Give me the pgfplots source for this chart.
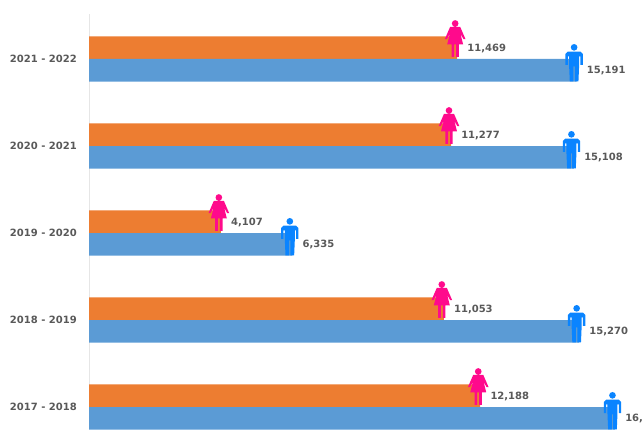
\documentclass[border=0pt]{standalone}
\usepackage{fontspec}
\setmainfont{DejaVu Sans}
\usepackage{pgfplots}
\usepackage{pgfplotstable}
\pgfplotsset{compat=1.18}
\definecolor{Female}{HTML}{ED7D31}
\definecolor{Male}{HTML}{5B9BD5}
\definecolor{PinkIcon}{HTML}{FF0A8C}
\definecolor{BlueIcon}{HTML}{0A84FF}
\definecolor{Txt}{HTML}{595959}
\definecolor{Rule}{HTML}{E6E6E6}

% icon coordinates are in thirds of a reference pixel (0.25pt)
\pgfdeclareplotmark{woman}{%
  \pgfscope
  \pgftransformxshift{-1.5pt}\pgftransformyshift{15.4pt}\pgftransformscale{0.25}%
  \pgfpathcircle{\pgfpoint{0pt}{45pt}}{10pt}%
  \pgfpathmoveto{\pgfpoint{-15pt}{35pt}}\pgfpathlineto{\pgfpoint{15pt}{35pt}}%
  \pgfpathlineto{\pgfpoint{31pt}{-2pt}}\pgfpathlineto{\pgfpoint{25pt}{-2pt}}%
  \pgfpathlineto{\pgfpoint{16pt}{14pt}}%
  \pgfpathlineto{\pgfpoint{24pt}{-18pt}}\pgfpathlineto{\pgfpoint{-24pt}{-18pt}}%
  \pgfpathlineto{\pgfpoint{-16pt}{14pt}}%
  \pgfpathlineto{\pgfpoint{-25pt}{-2pt}}\pgfpathlineto{\pgfpoint{-31pt}{-2pt}}%
  \pgfpathclose
  \pgfpathrectangle{\pgfpoint{-11pt}{-55pt}}{\pgfpoint{8pt}{38pt}}%
  \pgfpathrectangle{\pgfpoint{3pt}{-55pt}}{\pgfpoint{8pt}{38pt}}%
  \pgfusepathqfill
  \endpgfscope}
\pgfdeclareplotmark{man}{%
  \pgfscope
  \pgftransformxshift{-1.9pt}\pgftransformyshift{-3pt}\pgftransformscale{0.25}%
  \pgfpathcircle{\pgfpoint{0pt}{47pt}}{10pt}%
  \pgfpathmoveto{\pgfpoint{-19pt}{34pt}}\pgfpathlineto{\pgfpoint{19pt}{34pt}}%
  \pgfpathlineto{\pgfpoint{26pt}{27pt}}\pgfpathlineto{\pgfpoint{26pt}{-6pt}}%
  \pgfpathlineto{\pgfpoint{19pt}{-6pt}}\pgfpathlineto{\pgfpoint{19pt}{20pt}}%
  \pgfpathlineto{\pgfpoint{15pt}{20pt}}\pgfpathlineto{\pgfpoint{15pt}{-8pt}}%
  \pgfpathlineto{\pgfpoint{13pt}{-55pt}}\pgfpathlineto{\pgfpoint{2pt}{-55pt}}%
  \pgfpathlineto{\pgfpoint{2pt}{-10pt}}\pgfpathlineto{\pgfpoint{-2pt}{-10pt}}%
  \pgfpathlineto{\pgfpoint{-2pt}{-55pt}}\pgfpathlineto{\pgfpoint{-13pt}{-55pt}}%
  \pgfpathlineto{\pgfpoint{-15pt}{-8pt}}\pgfpathlineto{\pgfpoint{-15pt}{20pt}}%
  \pgfpathlineto{\pgfpoint{-19pt}{20pt}}\pgfpathlineto{\pgfpoint{-19pt}{-6pt}}%
  \pgfpathlineto{\pgfpoint{-26pt}{-6pt}}\pgfpathlineto{\pgfpoint{-26pt}{27pt}}%
  \pgfpathclose
  \pgfusepathqfill
  \endpgfscope}

\pgfplotstableread{
value row
12188 0
11053 1
4107 2
11277 3
11469 4
}\femaledata
\pgfplotstableread{
value row
16386 0
15270 1
6335 2
15108 3
15191 4
}\maledata

\begin{document}
\begin{tikzpicture}
  \path[use as bounding box] (0,0) rectangle (481.5pt,321.75pt);
  \begin{axis}[
    at={(66.75pt,0pt)}, anchor=south west,
    scale only axis,
    width=414.75pt, height=311.25pt,
    xmin=0, xmax=17227,
    ymin=-0.2529, ymax=4.5172,
    clip=false,
    axis x line=none,
    axis y line=left,
    y axis line style={-, draw=Rule, line width=0.75pt},
    ytick={0,1,2,3,4},
    yticklabels={2017 - 2018,2018 - 2019,2019 - 2020,2020 - 2021,2021 - 2022},
    major tick length=0pt,
    y tick label style={font=\bfseries\fontsize{7.5}{9}\selectfont, text=Txt, inner sep=0pt, xshift=-9pt},
    bar width=16.875pt,
    nodes near coords,
    point meta=x,
    /pgf/number format/.cd, fixed, precision=0, 1000 sep={,}, assume math mode=true,
  ]
    \addplot[xbar, bar shift=8.44pt, fill=Female, draw=none, nodes near coords=\empty] table[x=value,y=row] {\femaledata};
    \addplot[xbar, bar shift=-8.44pt, fill=Male, draw=none, nodes near coords=\empty] table[x=value,y=row] {\maledata};
    \addplot[only marks, mark=woman, color=PinkIcon,
      nodes near coords style={font=\bfseries\fontsize{7.5}{9}\selectfont, text=Txt, anchor=west, inner sep=0pt, xshift=7.5pt, yshift=8pt}]
      table[x=value,y=row] {\femaledata};
    \addplot[only marks, mark=man, color=BlueIcon,
      nodes near coords style={font=\bfseries\fontsize{7.5}{9}\selectfont, text=Txt, anchor=west, inner sep=0pt, xshift=7.5pt, yshift=-8.8pt}]
      table[x=value,y=row] {\maledata};
  \end{axis}
\end{tikzpicture}
\end{document}
